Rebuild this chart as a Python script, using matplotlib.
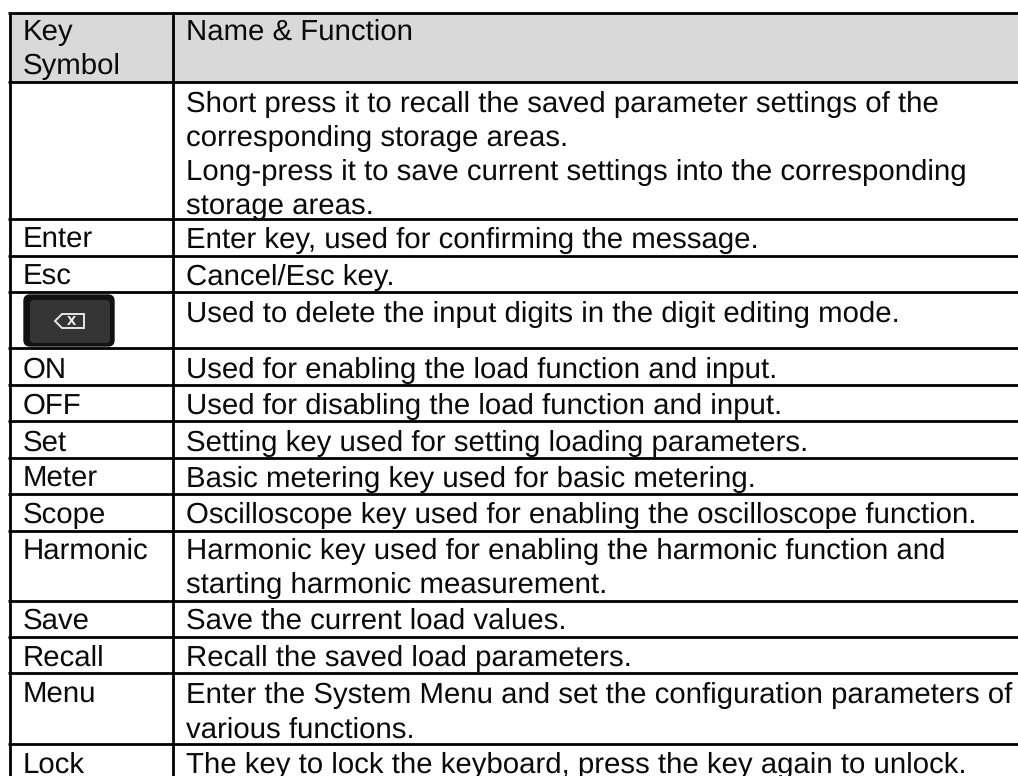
import matplotlib
matplotlib.use("Agg")
import matplotlib.pyplot as plt
from matplotlib.patches import FancyBboxPatch, Rectangle, Polygon

plt.rcParams['font.family'] = ['Liberation Sans', 'DejaVu Sans']
plt.rcParams['text.hinting'] = 'none'
plt.rcParams['text.hinting_factor'] = 8

W, H = 1018, 776
keys = ["Key\nSymbol", "", "Enter", "Esc", "", "ON", "OFF", "Set", "Meter", "Scope",
        "Harmonic", "Save", "Recall", "Menu", "Lock"]
functions = [
    "Name & Function",
    "Short press it to recall the saved parameter settings of the\ncorresponding storage areas.\nLong-press it to save current settings into the corresponding\nstorage areas.",
    "Enter key, used for confirming the message.",
    "Cancel/Esc key.",
    "Used to delete the input digits in the digit editing mode.",
    "Used for enabling the load function and input.",
    "Used for disabling the load function and input.",
    "Setting key used for setting loading parameters.",
    "Basic metering key used for basic metering.",
    "Oscilloscope key used for enabling the oscilloscope function.",
    "Harmonic key used for enabling the harmonic function and\nstarting harmonic measurement.",
    "Save the current load values.",
    "Recall the saved load parameters.",
    "Enter the System Menu and set the configuration parameters of\nvarious functions.",
    "The key to lock the keyboard, press the key again to unlock.",
]
row_edges = [13, 82, 219, 256, 292, 348, 385, 421, 458, 494, 531, 601, 637, 673, 744, 781]
baselines = [40, 111.5, 248, 285, 322, 378, 414, 451, 487, 523, 559, 629, 666, 703, 773]
col_edges = [10, 173, 1018]

fig = plt.figure(figsize=(W / 100, H / 100), dpi=100)
ax = fig.add_axes([0, 0, 1, 1])
ax.set_xlim(0, W)
ax.set_ylim(H, 0)
ax.axis("off")

ax.add_patch(Rectangle((col_edges[0], row_edges[0]), col_edges[2] - col_edges[0],
                       row_edges[1] - row_edges[0], fc="#d9d9d9", ec="none", zorder=0))
lw = 2.0
for y in row_edges:
    ax.plot([col_edges[0] - 1.5, col_edges[2]], [y, y], color="black", lw=lw, solid_capstyle="butt", zorder=2)
for x in col_edges[:2]:
    ax.plot([x, x], [row_edges[0], H], color="black", lw=lw, solid_capstyle="butt", zorder=2)

fs = 21.2
pitch = 34.3
for base, k, f in zip(baselines, keys, functions):
    for x, cell in ((22.5, k), (186.5, f)):
        for n, line in enumerate(cell.split("\n")):
            ax.text(x, base + n * pitch, line, fontsize=fs, va="baseline", ha="left", color="#0a0a0a")

# backspace key icon
ax.add_patch(FancyBboxPatch((24, 295), 90, 51, boxstyle="round,pad=0,rounding_size=6",
                            fc="#111111", ec="#111111", lw=1, zorder=3))
ax.add_patch(FancyBboxPatch((30, 300), 80, 43, boxstyle="round,pad=0,rounding_size=4",
                            fc="#353535", ec="none", zorder=3.5))
ax.add_patch(Polygon([[55, 321], [62, 314], [84, 314], [84, 328], [62, 328]], closed=True,
                     fc="none", ec="#e6e6e6", lw=1.4, zorder=4))
ax.text(72, 320.5, "x", fontsize=12, fontweight="bold", color="#f0f0f0", ha="center", va="center",
        zorder=5)

fig.savefig("out.png", dpi=100, facecolor="white")
